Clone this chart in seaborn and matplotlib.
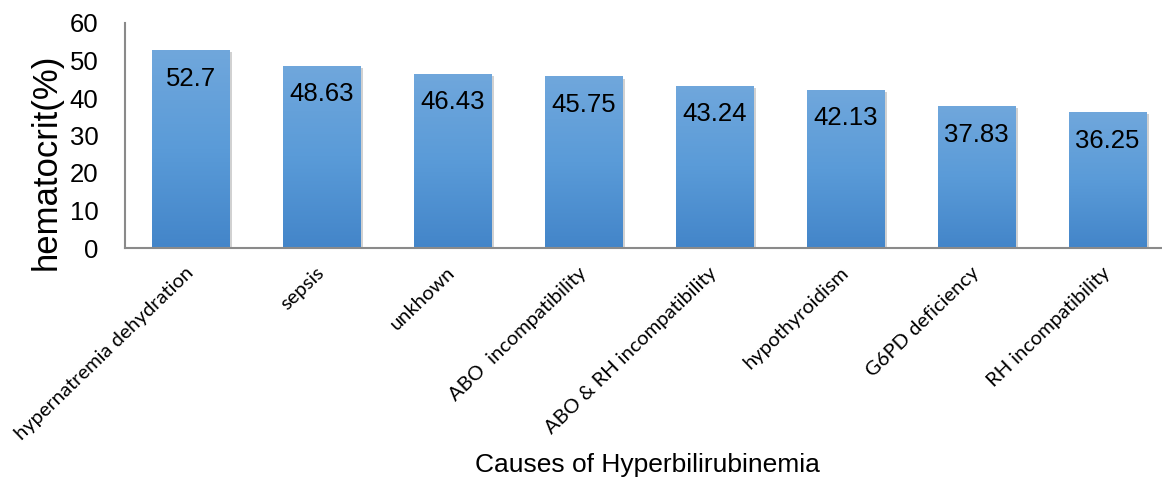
import numpy as np
import pandas as pd
import matplotlib
matplotlib.use("Agg")
import matplotlib.pyplot as plt
import matplotlib.patheffects as pe
from matplotlib.colors import LinearSegmentedColormap
import seaborn as sns

# Mean hematocrit by cause of hyperbilirubinemia
causes = [
    "hypernatremia dehydration",
    "sepsis",
    "unkhown",
    "ABO  incompatibility",
    "ABO & RH incompatibility",
    "hypothyroidism",
    "G6PD deficiency",
    "RH incompatibility",
]
hematocrit = [52.7, 48.63, 46.43, 45.75, 43.24, 42.13, 37.83, 36.25]
y_ticks = [0, 10, 20, 30, 40, 50, 60]

df = pd.DataFrame({"cause": causes, "hematocrit": hematocrit})

sns.set_theme(style="white")
plt.rcParams["font.family"] = ["Liberation Sans", "DejaVu Sans"]

W, H = 1162, 480
fig = plt.figure(figsize=(W / 100, H / 100), dpi=100)
fig.patch.set_facecolor("white")
# plot area: 0 at y=248px, 60 at y=23px; 8 slots of 131px from x=125px
ax = fig.add_axes([125 / W, (H - 248) / H, 1048 / W, 225 / H])

sns.barplot(data=df, x="cause", y="hematocrit", color="#5596d4",
            width=0.59, saturation=1, ax=ax, zorder=2)

ax.set_xlim(-0.5, 7.5)
ax.set_ylim(0, 60)

# vertical blue gradient inside each bar, with a soft drop shadow
cmap = LinearSegmentedColormap.from_list("barfade", ["#4385c9", "#5a9bd8", "#70a7dc"])
grad = np.linspace(0, 1, 256).reshape(-1, 1)
for patch in ax.patches:
    patch.set_edgecolor("none")
    patch.set_path_effects([pe.SimplePatchShadow(offset=(2, -1.5), alpha=0.18, shadow_rgbFace="#000000"),
                            pe.Normal()])
    x0, y0 = patch.get_x(), patch.get_y()
    w, h = patch.get_width(), patch.get_height()
    im = ax.imshow(grad, cmap=cmap, origin="lower", aspect="auto",
                   extent=(x0, x0 + w, y0, y0 + h), zorder=3)
    im.set_clip_path(patch)
ax.set_xlim(-0.5, 7.5)
ax.set_ylim(0, 60)

# value labels inside the top of each bar
for i, v in enumerate(hematocrit):
    ax.annotate(f"{v:g}", xy=(i, v), xytext=(0, -20.5), textcoords="offset points",
                ha="center", va="center", fontsize=18.5, color="black", zorder=5)

# axes styling
for side in ["top", "right"]:
    ax.spines[side].set_visible(False)
for side in ["left", "bottom"]:
    ax.spines[side].set_color("#8a8a8a")
    ax.spines[side].set_linewidth(1.5)
    ax.spines[side].set_zorder(4)

ax.set_yticks(y_ticks)
ax.set_yticklabels([str(t) for t in y_ticks])
ax.tick_params(axis="y", length=0, pad=19, labelsize=18.5, colors="black")
ax.tick_params(axis="x", length=0, pad=16, colors="black")
ax.set_xticks(range(len(causes)))
ax.set_xticklabels(causes)
for lab in ax.get_xticklabels():
    lab.set_rotation(44)
    lab.set_ha("right")
    lab.set_va("center")
    lab.set_rotation_mode("anchor")
    lab.set_fontfamily(["Lato", "DejaVu Sans"])
    lab.set_fontsize(14.5)

ax.set_ylabel("hematocrit(%)", fontsize=25, color="black")
ax.yaxis.label.set_va("center")
ax.yaxis.set_label_coords((46 - 125) / 1048, (248 - 162) / 225)

ax.set_xlabel("Causes of Hyperbilirubinemia", fontsize=19, color="black")
ax.xaxis.label.set_va("center")
ax.xaxis.set_label_coords((647 - 125) / 1048, (248 - 465) / 225)

fig.savefig("out.png", dpi=100, facecolor="white")
